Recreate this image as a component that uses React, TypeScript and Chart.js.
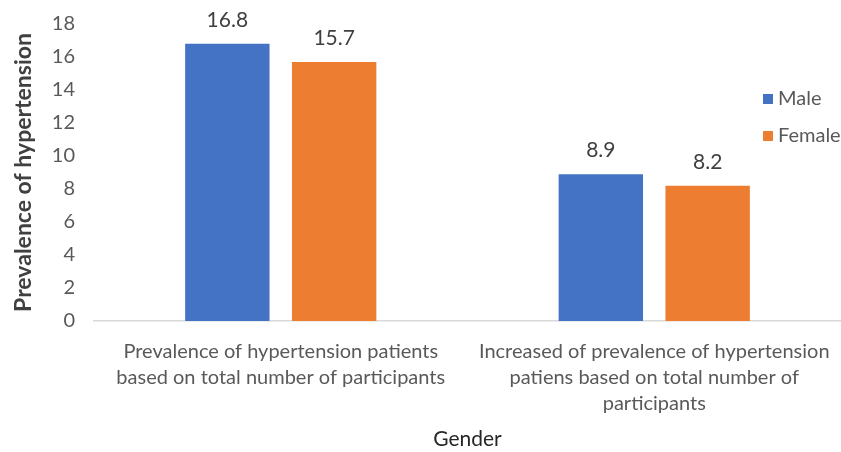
import React, { useEffect, useRef } from "react";
import { Chart, registerables } from "chart.js";

Chart.register(...registerables);

const categories: string[][] = [
  ["Prevalence of hypertension patients", "based on total number of participants"],
  ["Increased of prevalence of hypertension", "patiens based on total number of", "participants"],
];
const maleValues = [16.8, 8.9];
const femaleValues = [15.7, 8.2];
const seriesNames = ["Male", "Female"];
const yTicksMax = 18;
const yTickStep = 2;
const xTitle = "Gender";
const yTitle = "Prevalence of hypertension";

const FONT = "Lato, 'Liberation Sans', sans-serif";
const TEXT = "#595959";

const dataLabelPlugin = {
  id: "dataLabels",
  afterDatasetsDraw(chart: any) {
    const ctx = chart.ctx;
    ctx.save();
    ctx.font = `21px ${FONT}`;
    ctx.fillStyle = "#404040";
    ctx.textAlign = "center";
    ctx.textBaseline = "alphabetic";
    chart.data.datasets.forEach((ds: any, i: number) => {
      const meta = chart.getDatasetMeta(i);
      meta.data.forEach((el: any, j: number) => {
        ctx.fillText(String(ds.data[j]), el.x, el.y - 17);
      });
    });
    ctx.restore();
  },
};

const legendPlugin = {
  id: "insideLegend",
  afterDraw(chart: any) {
    const ctx = chart.ctx;
    ctx.save();
    ctx.font = `20px ${FONT}`;
    ctx.textBaseline = "middle";
    ctx.textAlign = "left";
    chart.data.datasets.forEach((ds: any, i: number) => {
      const y = 99 + i * 37;
      ctx.fillStyle = ds.backgroundColor;
      ctx.fillRect(763, y - 5, 10, 10);
      ctx.fillStyle = TEXT;
      ctx.fillText(ds.label, 778, y);
    });
    ctx.restore();
  },
};

export default function App() {
  const ref = useRef<HTMLCanvasElement>(null);
  useEffect(() => {
    if (!ref.current) return;
    const chart = new Chart(ref.current, {
      type: "bar",
      data: {
        labels: categories,
        datasets: [
          { label: seriesNames[0], data: maleValues, backgroundColor: "#4472C4" },
          { label: seriesNames[1], data: femaleValues, backgroundColor: "#ED7D31" },
        ],
      },
      options: {
        responsive: false,
        animation: false,
        layout: { padding: { top: 24, right: 0, left: 10, bottom: 0 } },
        plugins: { legend: { display: false }, tooltip: { enabled: false } },
        datasets: { bar: { categoryPercentage: 0.572, barPercentage: 0.79 } },
        scales: {
          x: {
            grid: { display: false, drawTicks: false },
            border: { display: true, color: "#D9D9D9", width: 1.5 },
            ticks: {
              color: TEXT,
              font: { family: FONT, size: 20, lineHeight: 1.3 },
              maxRotation: 0,
              autoSkip: false,
              padding: 18,
            },
            title: {
              display: true,
              text: xTitle,
              color: "#262626",
              font: { family: FONT, size: 21 },
              padding: { top: 12, bottom: 0 },
            },
            afterFit(scale: any) {
              scale.height = 131;
              scale.paddingLeft = 0;
              scale.paddingRight = 0;
            },
          },
          y: {
            min: 0,
            max: yTicksMax,
            grid: { display: false, drawTicks: false },
            border: { display: false },
            ticks: {
              stepSize: yTickStep,
              color: TEXT,
              font: { family: FONT, size: 20 },
              padding: 19,
            },
            title: {
              display: true,
              text: yTitle,
              color: "#404040",
              font: { family: FONT, size: 23, weight: "bold" },
              padding: 0,
            },
            afterFit(scale: any) {
              scale.width = 84;
              scale.paddingTop = 0;
              scale.paddingBottom = 0;
            },
          },
        },
      },
      plugins: [dataLabelPlugin, legendPlugin],
    });
    return () => chart.destroy();
  }, []);
  return (
    <div style={{ position: "fixed", left: 0, top: 0, width: 841, height: 452, background: "#fff" }}>
      <canvas ref={ref} width={841} height={452} style={{ width: 841, height: 452 }} />
    </div>
  );
}
